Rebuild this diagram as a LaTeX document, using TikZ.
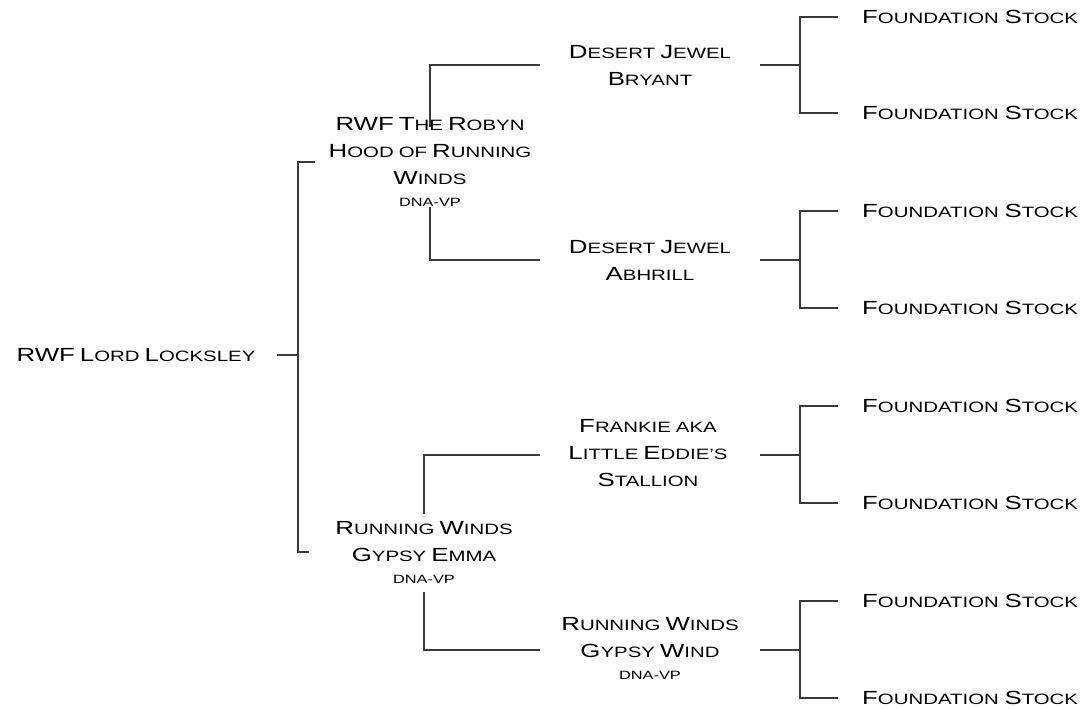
\documentclass[tikz,border=0pt]{standalone}
\usepackage{fontspec}
\setmainfont{Liberation Sans}[FakeStretch=1.36]
\usetikzlibrary{positioning}

\definecolor{linegray}{HTML}{3A3A3A}
\newcommand\Cap[1]{{\fontsize{19}{27}\selectfont #1}}
\newcommand\dna{{\fontsize{12}{22}\selectfont DNA-VP}}

\begin{document}
\begin{tikzpicture}[x=1pt,y=-1pt]
  \tikzset{
    every node/.style={inner sep=0pt,font=\fontsize{15}{27}\selectfont},
    horse/.style={align=center,text width=#1},
    horse/.default=200pt,
    stock/.style={anchor=west},
    link/.style={draw=linegray,line width=1.2pt}
  }
  \useasboundingbox (0,0) rectangle (1088,709);
  % horses
  \node[horse=240pt] (root) at (136,355) {\Cap{RWF} \Cap{L}ORD \Cap{L}OCKSLEY};
  \node[horse=220pt] (sire) at (430,162) {\Cap{RWF} \Cap{T}HE \Cap{R}OBYN\\ \Cap{H}OOD OF \Cap{R}UNNING\\ \Cap{W}INDS\\[-5pt] \dna};
  \node[horse=220pt] (dam) at (424,552) {\Cap{R}UNNING \Cap{W}INDS\\ \Cap{G}YPSY \Cap{E}MMA\\[-5pt] \dna};
  \node[horse] (bryant) at (650,65) {\Cap{D}ESERT \Cap{J}EWEL\\ \Cap{B}RYANT};
  \node[horse] (abhrill) at (650,260) {\Cap{D}ESERT \Cap{J}EWEL\\ \Cap{A}BHRILL};
  \node[horse] (frankie) at (648,453) {\Cap{F}RANKIE AKA\\ \Cap{L}ITTLE \Cap{E}DDIE'S\\ \Cap{S}TALLION};
  \node[horse] (wind) at (650,648) {\Cap{R}UNNING \Cap{W}INDS\\ \Cap{G}YPSY \Cap{W}IND\\[-5pt] \dna};
  % foundation stock
  \foreach \i/\y in {1/17,2/113,3/211,4/308,5/406,6/503,7/601,8/698}
    \node[stock] (fs\i) at (862,\y) {\Cap{F}OUNDATION \Cap{S}TOCK};
  % junctions
  \coordinate (jroot) at (298,355);
  \coordinate (jbryant) at (800,65);
  \coordinate (jabhrill) at (800,260);
  \coordinate (jfrankie) at (800,455);
  \coordinate (jwind) at (800,650);
  % lines
  \draw[link,shorten <=21pt] (root.east) -- (jroot);
  \draw[link,shorten <=5pt,shorten >=5pt] (sire.west) -| (jroot) |- (dam.west);
  \draw[link,shorten <=-10pt,shorten >=10pt] (sire.north) |- (bryant.west);
  \draw[link,shorten >=10pt] (sire.south) |- (abhrill.west);
  \draw[link,shorten <=7pt,shorten >=8pt] (dam.north) |- (frankie.west |- jfrankie);
  \draw[link,shorten <=9pt,shorten >=10pt] (dam.south) |- (wind.west |- jwind);
  \draw[link,shorten <=10pt] (bryant.east) -- (jbryant);
  \draw[link,shorten <=10pt] (abhrill.east) -- (jabhrill);
  \draw[link,shorten <=12pt] (frankie.east |- jfrankie) -- (jfrankie);
  \draw[link,shorten <=10pt] (wind.east |- jwind) -- (jwind);
  \draw[link,shorten <=24pt,shorten >=24pt] (fs1.west) -| (jbryant) |- (fs2.west);
  \draw[link,shorten <=24pt,shorten >=24pt] (fs3.west) -| (jabhrill) |- (fs4.west);
  \draw[link,shorten <=24pt,shorten >=24pt] (fs5.west) -| (jfrankie) |- (fs6.west);
  \draw[link,shorten <=24pt,shorten >=24pt] (fs7.west) -| (jwind) |- (fs8.west);
\end{tikzpicture}
\end{document}
